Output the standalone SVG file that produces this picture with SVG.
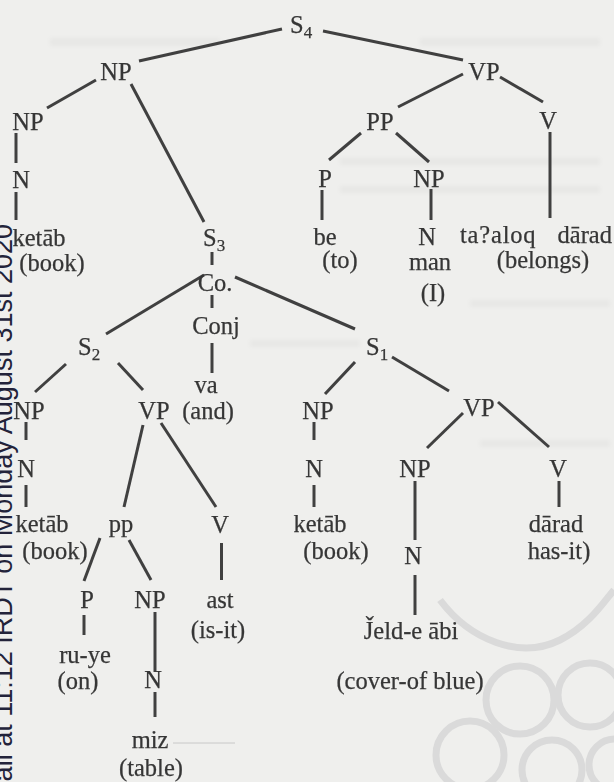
<svg xmlns="http://www.w3.org/2000/svg" width="614" height="782" viewBox="0 0 614 782">
  <defs>
    <style>
      .lbl { font-family: "Liberation Serif", "Times New Roman", serif; font-size: 24.5px; fill: #363636; stroke: #363636; stroke-width: 0.25; text-anchor: middle; }
      .st { text-anchor: start; }
      .en { text-anchor: end; }
      .sub { font-size: 17px; }
      .edge { stroke: #404040; stroke-width: 3; stroke-linecap: butt; fill: none; }
      .stamp { font-family: "Liberation Sans", Arial, sans-serif; font-size: 27px; fill: #23233a; text-anchor: end; }
      .orn { fill: none; stroke: #dadada; stroke-width: 7; }
      .ghost { fill: #000; opacity: 0.03; }
    </style>
    <clipPath id="ornClip">
      <rect x="420" y="560" width="194" height="222"/>
    </clipPath>
    <filter id="soft" x="-10%" y="-50%" width="120%" height="200%">
      <feGaussianBlur stdDeviation="2"/>
    </filter>
  </defs>

  <!-- paper -->
  <rect width="614" height="782" fill="#efefed"/>

  <!-- faint print-through from the reverse side -->
  <g filter="url(#soft)">
    <rect class="ghost" x="50" y="38" width="170" height="8"/>
    <rect class="ghost" x="420" y="38" width="180" height="8"/>
    <rect class="ghost" x="340" y="158" width="260" height="7"/>
    <rect class="ghost" x="340" y="186" width="260" height="7"/>
    <rect class="ghost" x="470" y="300" width="140" height="7"/>
    <rect class="ghost" x="250" y="340" width="110" height="7"/>
    <rect class="ghost" x="480" y="440" width="130" height="7"/>
  </g>

  <!-- ornament watermark, lower right -->
  <g clip-path="url(#ornClip)">
    <path class="orn" d="M440,600 C470,640 520,660 560,640 C590,625 605,600 614,590"/>
    <circle class="orn" cx="520" cy="700" r="34"/>
    <circle class="orn" cx="590" cy="695" r="32"/>
    <circle class="orn" cx="470" cy="755" r="34"/>
    <circle class="orn" cx="552" cy="770" r="30"/>
    <circle class="orn" cx="615" cy="765" r="26"/>
  </g>

  <!-- vertical download stamp -->
  <text class="stamp" transform="translate(12,224) rotate(-90)">ail at 11:12 IRDT on Monday August 31st 2020</text>

  <!-- connectors -->
  <g id="connectors" class="edge">
    <line x1="282" y1="29" x2="139" y2="61"/>
    <line x1="323" y1="31" x2="463" y2="60"/>
    <line x1="96" y1="80" x2="47" y2="108"/>
    <line x1="131" y1="84" x2="204" y2="222"/>
    <line x1="16" y1="133" x2="16" y2="163"/>
    <line x1="16" y1="192" x2="16" y2="220"/>
    <line x1="463" y1="74" x2="398" y2="107"/>
    <line x1="500" y1="77" x2="543" y2="102"/>
    <line x1="550" y1="132" x2="550" y2="218"/>
    <line x1="361" y1="133" x2="329" y2="160"/>
    <line x1="396" y1="133" x2="429" y2="162"/>
    <line x1="322" y1="190" x2="322" y2="220"/>
    <line x1="431" y1="189" x2="431" y2="220"/>
    <line x1="212" y1="252" x2="212" y2="265"/>
    <line x1="212" y1="295" x2="212" y2="308"/>
    <line x1="212" y1="343" x2="212" y2="373"/>
    <line x1="204" y1="275" x2="106" y2="334"/>
    <line x1="235" y1="277" x2="355" y2="329"/>
    <line x1="66" y1="364" x2="35" y2="392"/>
    <line x1="118" y1="363" x2="143" y2="390"/>
    <line x1="355" y1="362" x2="325" y2="394"/>
    <line x1="392" y1="357" x2="449" y2="391"/>
    <line x1="26" y1="422" x2="26" y2="440"/>
    <line x1="26" y1="485" x2="26" y2="507"/>
    <line x1="143" y1="425" x2="124" y2="507"/>
    <line x1="161" y1="423" x2="216" y2="507"/>
    <line x1="221.5" y1="543" x2="221.5" y2="580"/>
    <line x1="100" y1="538" x2="84" y2="581"/>
    <line x1="129" y1="540" x2="151" y2="580"/>
    <line x1="84" y1="615" x2="84" y2="635"/>
    <line x1="155" y1="612" x2="155" y2="672"/>
    <line x1="155" y1="692" x2="155" y2="717"/>
    <line x1="314" y1="422" x2="314" y2="440"/>
    <line x1="314" y1="485" x2="314" y2="507"/>
    <line x1="463" y1="413" x2="427" y2="448"/>
    <line x1="498" y1="402" x2="549" y2="447"/>
    <line x1="415" y1="481" x2="415" y2="540"/>
    <line x1="415" y1="575" x2="415" y2="615"/>
    <line x1="559" y1="481" x2="559" y2="507"/>
  </g>
  <line x1="173" y1="743" x2="235" y2="743" stroke="#c8c8c8" stroke-width="1"/>

  <!-- nodes -->
  <g id="s4"><text class="lbl st" x="290" y="33">S<tspan class="sub" dy="5">4</tspan></text></g>
  <g id="np-subj"><text class="lbl" x="116" y="80">NP</text></g>
  <g id="vp-main"><text class="lbl" x="484" y="80">VP</text></g>
  <g id="np-ketab-top"><text class="lbl" x="28" y="130">NP</text></g>
  <g id="n-ketab-top"><text class="lbl" x="21" y="188">N</text></g>
  <g id="w-ketab-top"><text class="lbl" x="39" y="246">ketāb</text><text class="lbl" x="52" y="271">(book)</text></g>
  <g id="pp-main"><text class="lbl" x="380" y="130">PP</text></g>
  <g id="v-main"><text class="lbl" x="548" y="129">V</text></g>
  <g id="p-be"><text class="lbl" x="325" y="187">P</text></g>
  <g id="np-man"><text class="lbl" x="429" y="187">NP</text></g>
  <g id="w-be"><text class="lbl" x="325" y="245">be</text><text class="lbl" x="340" y="268">(to)</text></g>
  <g id="n-man"><text class="lbl" x="427" y="245">N</text></g>
  <g id="w-man"><text class="lbl" x="430" y="270">man</text><text class="lbl" x="433" y="301">(I)</text></g>
  <g id="w-belongs"><text class="lbl st" x="460" y="243" letter-spacing="0.8">ta?aloq</text><text class="lbl en" x="612" y="243">dārad</text><text class="lbl" x="543" y="268">(belongs)</text></g>
  <g id="s3"><text class="lbl st" x="203" y="246">S<tspan class="sub" dy="5">3</tspan></text></g>
  <g id="co"><text class="lbl" x="215" y="291">Co.</text></g>
  <g id="conj"><text class="lbl" x="216" y="334">Conj</text></g>
  <g id="w-va"><text class="lbl" x="206" y="393">va</text><text class="lbl" x="208" y="419">(and)</text></g>
  <g id="s2"><text class="lbl st" x="78" y="355">S<tspan class="sub" dy="5">2</tspan></text></g>
  <g id="s1"><text class="lbl st" x="366" y="355">S<tspan class="sub" dy="5">1</tspan></text></g>
  <g id="np-s2"><text class="lbl" x="29" y="419">NP</text></g>
  <g id="vp-s2"><text class="lbl" x="154" y="419">VP</text></g>
  <g id="n-s2"><text class="lbl" x="26" y="477">N</text></g>
  <g id="w-ketab-s2"><text class="lbl" x="42" y="532">ketāb</text><text class="lbl" x="55" y="559">(book)</text></g>
  <g id="pp-s2"><text class="lbl" x="121" y="532">pp</text></g>
  <g id="v-s2"><text class="lbl" x="220" y="533">V</text></g>
  <g id="p-s2"><text class="lbl" x="87" y="608">P</text></g>
  <g id="np-miz"><text class="lbl" x="150" y="608">NP</text></g>
  <g id="w-ast"><text class="lbl" x="220" y="608">ast</text><text class="lbl" x="218" y="638">(is-it)</text></g>
  <g id="w-ruye"><text class="lbl" x="85" y="663">ru-ye</text><text class="lbl" x="78" y="689">(on)</text></g>
  <g id="n-miz"><text class="lbl" x="153" y="688">N</text></g>
  <g id="w-miz"><text class="lbl" x="150" y="748">miz</text><text class="lbl" x="151" y="776">(table)</text></g>
  <g id="np-s1"><text class="lbl" x="318" y="419">NP</text></g>
  <g id="vp-s1"><text class="lbl" x="479" y="416">VP</text></g>
  <g id="n-s1"><text class="lbl" x="314" y="477">N</text></g>
  <g id="w-ketab-s1"><text class="lbl" x="320" y="532">ketāb</text><text class="lbl" x="336" y="559">(book)</text></g>
  <g id="np-jeld"><text class="lbl" x="415" y="477">NP</text></g>
  <g id="v-s1"><text class="lbl" x="558" y="477">V</text></g>
  <g id="n-jeld"><text class="lbl" x="413" y="564">N</text></g>
  <g id="w-darad"><text class="lbl" x="556" y="532">dārad</text><text class="lbl" x="559" y="559">has-it)</text></g>
  <g id="w-jeld"><text class="lbl" x="411" y="639">J̌eld-e ābi</text><text class="lbl" x="410" y="689">(cover-of blue)</text></g>
</svg>
